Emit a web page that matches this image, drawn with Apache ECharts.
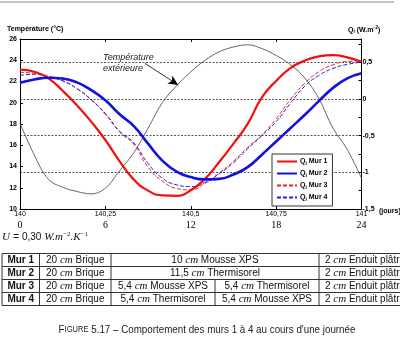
<!DOCTYPE html>
<html>
<head>
<meta charset="utf-8">
<script src="https://cdn.jsdelivr.net/npm/echarts@6/dist/echarts.min.js"></script>
<style>
  html, body { margin: 0; padding: 0; background: #fff; }
  #chart { width: 400px; height: 346px; }
</style>
</head>
<body>
<div id="chart"></div>
<script>
// Time axis: hours of day 140 (0 h) to day 141 (24 h)
const hours = [0, 1, 2, 3, 4, 5, 6, 7, 8, 9, 10, 11, 12, 13, 14, 15, 16, 17, 18, 19, 20, 21, 22, 23, 24];
const dayTicks = ['140', '140,25', '140,5', '140,75', '141'];
const hourTicks = ['0', '6', '12', '18', '24'];

// Outside air temperature (°C, left axis)
const tExterieure = [18.07, 15.1, 12.8, 12.05, 11.65, 11.42, 11.97, 13.6, 15.3, 17.6, 20.0, 21.6, 22.9,
                     24.0, 24.8, 25.25, 25.45, 25.1, 24.45, 23.6, 22.35, 20.4, 17.6, 15.6, 12.9];

// Inner heat flux Q_i (W.m-2, right axis)
const qMur1 = [0.40, 0.37, 0.28, 0.11, -0.085, -0.31, -0.56, -0.85, -1.1, -1.25, -1.315, -1.32, -1.245,
               -1.09, -0.86, -0.61, -0.34, 0.02, 0.245, 0.42, 0.52, 0.58, 0.597, 0.565, 0.505];
const qMur2 = [0.221, 0.265, 0.289, 0.278, 0.225, 0.12, -0.02, -0.21, -0.37, -0.61, -0.84, -0.99, -1.065,
               -1.097, -1.09, -1.03, -0.93, -0.76, -0.58, -0.40, -0.22, -0.03, 0.15, 0.28, 0.35];
const qMur3 = [0.36, 0.35, 0.31, 0.25, 0.14, -0.01, -0.21, -0.45, -0.62, -0.93, -1.12, -1.22, -1.24,
               -1.15, -1.01, -0.85, -0.66, -0.49, -0.27, -0.01, 0.21, 0.37, 0.465, 0.51, 0.516];
const qMur4 = [0.32, 0.335, 0.30, 0.245, 0.14, -0.01, -0.20, -0.44, -0.60, -0.88, -1.08, -1.17, -1.195,
               -1.14, -1.02, -0.87, -0.68, -0.50, -0.31, -0.06, 0.17, 0.32, 0.415, 0.47, 0.50];

// Wall compositions
const murs = ['Mur 1', 'Mur 2', 'Mur 3', 'Mur 4'];
const coucheBrique = ['20 cm Brique', '20 cm Brique', '20 cm Brique', '20 cm Brique'];
const coucheIsolantA = ['10 cm Mousse XPS', '11,5 cm Thermisorel', '5,4 cm Mousse XPS', '5,4 cm Thermisorel'];
const coucheIsolantB = [null, null, '5,4 cm Thermisorel', '5,4 cm Mousse XPS'];
const coucheEnduit = ['2 cm Enduit plâtre', '2 cm Enduit plâtre', '2 cm Enduit plâtre', '2 cm Enduit plâtre'];

const SANS = 'Liberation Sans, Arial, sans-serif';
const SERIF = 'Liberation Serif, DejaVu Serif, serif';
const pairs = arr => hours.map((h, i) => [h, arr[i]]);
const comma = v => String(Math.round(v * 100) / 100).replace('.', ',');

const chart = echarts.init(document.getElementById('chart'), null, { renderer: 'canvas' });

// Table geometry
const colX = [2, 39.5, 111, 215, 319, 420];
const rowY = [253.5, 266.5, 279.5, 292.5, 305.5];
const cellRich = {
  c: { fontFamily: SERIF, fontStyle: 'italic', fontSize: 11, color: '#111' }
};
const withCm = s => s.replace('cm', '{c|cm}');
const tableGraphics = [];
const lineStyle = { stroke: '#333', lineWidth: 1 };
rowY.forEach(y => tableGraphics.push({ type: 'line', shape: { x1: colX[0], y1: y, x2: 400, y2: y }, style: lineStyle }));
[0, 1, 2, 4].forEach(k => tableGraphics.push({ type: 'line', shape: { x1: colX[k], y1: rowY[0], x2: colX[k], y2: rowY[4] }, style: lineStyle }));
tableGraphics.push({ type: 'line', shape: { x1: colX[3], y1: rowY[2], x2: colX[3], y2: rowY[4] }, style: lineStyle });
murs.forEach((m, i) => {
  const cy = (rowY[i] + rowY[i + 1]) / 2;
  const base = { fontFamily: SANS, fontSize: 10, fill: '#111', verticalAlign: 'middle', rich: cellRich };
  tableGraphics.push({ type: 'text', x: (colX[0] + colX[1]) / 2, y: cy,
    style: Object.assign({}, base, { text: m, fontWeight: 'bold', align: 'center' }) });
  tableGraphics.push({ type: 'text', x: (colX[1] + colX[2]) / 2, y: cy,
    style: Object.assign({}, base, { text: withCm(coucheBrique[i]), align: 'center' }) });
  if (coucheIsolantB[i] === null) {
    tableGraphics.push({ type: 'text', x: (colX[2] + colX[4]) / 2, y: cy,
      style: Object.assign({}, base, { text: withCm(coucheIsolantA[i]), align: 'center' }) });
  } else {
    tableGraphics.push({ type: 'text', x: (colX[2] + colX[3]) / 2, y: cy,
      style: Object.assign({}, base, { text: withCm(coucheIsolantA[i]), align: 'center' }) });
    tableGraphics.push({ type: 'text', x: (colX[3] + colX[4]) / 2, y: cy,
      style: Object.assign({}, base, { text: withCm(coucheIsolantB[i]), align: 'center' }) });
  }
  tableGraphics.push({ type: 'text', x: colX[4] + 6, y: cy,
    style: Object.assign({}, base, { text: withCm(coucheEnduit[i]), align: 'left' }) });
});

const option = {
  animation: false,
  backgroundColor: '#fff',
  grid: { left: 20, right: 38.5, top: 39, bottom: 137, show: false },
  legend: {
    orient: 'vertical',
    left: 272, top: 154,
    padding: [4, 5, 4, 4],
    itemGap: 4,
    itemWidth: 20,
    itemHeight: 8,
    backgroundColor: '#fff',
    borderColor: '#333',
    borderWidth: 1,
    borderRadius: 0,
    itemStyle: { opacity: 0 },
    data: ['Mur 1', 'Mur 2', 'Mur 3', 'Mur 4'],
    formatter: name => '{q|Q}{s|i}{q| ' + name + '}',
    textStyle: {
      padding: [0, 0, 0, -2],
      rich: {
        q: { fontFamily: SANS, fontSize: 7, fontWeight: 'bold', color: '#000' },
        s: { fontFamily: SANS, fontSize: 5, fontWeight: 'bold', color: '#000', padding: [4, 0, 0, 0] }
      }
    }
  },
  xAxis: [
    {
      type: 'value', position: 'bottom', min: 0, max: 24, interval: 6,
      axisLine: { show: true, onZero: false, lineStyle: { color: '#000', width: 1 } },
      axisTick: { show: true, inside: true, length: 3, lineStyle: { color: '#000' } },
      splitLine: { show: false },
      axisLabel: {
        margin: 1,
        color: '#000',
        formatter: v => {
          const k = Math.round(v / 6);
          return '{d|' + dayTicks[k] + '}\n{h|' + hourTicks[k] + '}';
        },
        rich: {
          d: { fontFamily: SANS, fontSize: 7, lineHeight: 9, color: '#000' },
          h: { fontFamily: SERIF, fontSize: 10, lineHeight: 12, color: '#000' }
        }
      }
    },
    {
      type: 'value', position: 'top', min: 0, max: 24, interval: 6,
      axisLine: { show: true, onZero: false, lineStyle: { color: '#000', width: 1 } },
      axisTick: { show: true, inside: true, length: 3, lineStyle: { color: '#000' } },
      axisLabel: { show: false },
      splitLine: { show: false }
    }
  ],
  yAxis: [
    {
      type: 'value', position: 'left', min: 10, max: 26, interval: 2,
      axisLine: { show: true, onZero: false, lineStyle: { color: '#000', width: 1 } },
      axisTick: { show: true, inside: true, length: 3, lineStyle: { color: '#000' } },
      splitLine: { show: false },
      axisLabel: { margin: 3, color: '#000', fontFamily: SANS, fontSize: 7, fontWeight: 'bold' }
    },
    {
      type: 'value', position: 'right', min: -1.5, max: 0.816, interval: 0.5,
      axisLine: { show: true, onZero: false, lineStyle: { color: '#000', width: 1 } },
      axisTick: { show: false },
      splitLine: {
        show: true, showMinLine: false, showMaxLine: false,
        lineStyle: { color: '#555', width: 1, type: [2, 1.5] }
      },
      axisLabel: {
        margin: 1, color: '#000', fontFamily: SANS, fontSize: 7, fontWeight: 'bold',
        showMaxLabel: false,
        formatter: v => (Math.abs(v * 2 - Math.round(v * 2)) < 1e-6 ? comma(v) : '')
      }
    },
    {
      type: 'value', position: 'right', min: -1.5, max: 0.816, interval: 0.25,
      axisLine: { show: false, onZero: false },
      axisTick: { show: true, inside: true, length: 3, lineStyle: { color: '#000' } },
      axisLabel: { show: false },
      splitLine: { show: false }
    }
  ],
  series: [
    {
      name: 'Température extérieure', type: 'line', xAxisIndex: 0, yAxisIndex: 0,
      data: pairs(tExterieure), smooth: 0.4, symbol: 'none',
      lineStyle: { color: '#555', width: 0.9 }, z: 1,
      markLine: {
        silent: true, animation: false,
        symbol: ['none', 'arrow'], symbolSize: [7, 10],
        label: { show: false },
        lineStyle: { color: '#000', width: 0.8, type: 'solid' },
        data: [[{ coord: [8.78, 23.71] }, { coord: [11.12, 21.67] }]]
      }
    },
    {
      name: 'Mur 1', type: 'line', xAxisIndex: 0, yAxisIndex: 1,
      data: pairs(qMur1), smooth: 0.5, symbol: 'none',
      lineStyle: { color: '#f01010', width: 2.2 }, itemStyle: { color: '#f01010' }, z: 3
    },
    {
      name: 'Mur 2', type: 'line', xAxisIndex: 0, yAxisIndex: 1,
      data: pairs(qMur2), smooth: 0.5, symbol: 'none',
      lineStyle: { color: '#1010e0', width: 2.6 }, itemStyle: { color: '#1010e0' }, z: 3
    },
    {
      name: 'Mur 3', type: 'line', xAxisIndex: 0, yAxisIndex: 1,
      data: pairs(qMur3), smooth: 0.5, symbol: 'none',
      lineStyle: { color: '#f02020', width: 1, type: [4, 2] }, itemStyle: { color: '#f02020' }, z: 2
    },
    {
      name: 'Mur 4', type: 'line', xAxisIndex: 0, yAxisIndex: 1,
      data: pairs(qMur4), smooth: 0.5, symbol: 'none',
      lineStyle: { color: '#2020e0', width: 1, type: [4, 2] }, itemStyle: { color: '#2020e0' }, z: 2
    }
  ],
  graphic: [
    // page rule above the figure
    { type: 'line', shape: { x1: 0, y1: 2, x2: 394, y2: 2 }, style: { stroke: '#888', lineWidth: 1 } },
    // axis titles
    { type: 'text', x: 7, y: 29, style: { text: 'Température (°C)', fontFamily: SANS, fontSize: 7, fontWeight: 'bold', fill: '#000', verticalAlign: 'middle' } },
    { type: 'text', x: 348, y: 30, style: {
        text: '{b|Q}{s|i}{b| (W.m}{p|-2}{b|)}', verticalAlign: 'middle',
        rich: {
          b: { fontFamily: SANS, fontSize: 7, fontWeight: 'bold', fill: '#000' },
          s: { fontFamily: SANS, fontSize: 5, fontWeight: 'bold', fill: '#000', padding: [4, 0, 0, 0] },
          p: { fontFamily: SANS, fontSize: 5, fontWeight: 'bold', fill: '#000', padding: [0, 0, 4, 0] }
        } } },
    { type: 'text', x: 379, y: 211, style: { text: '(jours)', fontFamily: SANS, fontSize: 7, fontWeight: 'bold', fill: '#000', verticalAlign: 'middle' } },
    // outside temperature annotation
    { type: 'text', x: 103, y: 57, style: { text: 'Température', fontFamily: SANS, fontSize: 9, fontStyle: 'italic', fill: '#222', verticalAlign: 'middle' } },
    { type: 'text', x: 103, y: 68, style: { text: 'extérieure', fontFamily: SANS, fontSize: 9, fontStyle: 'italic', fill: '#222', verticalAlign: 'middle' } },
    // U value
    { type: 'text', x: 2, y: 237, style: {
        text: '{i|U} {r|= 0,30 }{i|W.m}{p|−2}{i|.K}{p|−1}', verticalAlign: 'middle',
        rich: {
          i: { fontFamily: SERIF, fontStyle: 'italic', fontSize: 11, fill: '#111' },
          r: { fontFamily: SANS, fontSize: 10, fill: '#111' },
          p: { fontFamily: SERIF, fontSize: 7, fill: '#111', padding: [0, 0, 6, 0] }
        } } },
    // caption
    { type: 'text', x: 207, y: 330, scaleX: 0.89, style: {
        text: '{a|F}{b|IGURE}{a| 5.17 – Comportement des murs 1 à 4 au cours d\'une journée}',
        align: 'center', verticalAlign: 'middle',
        rich: {
          a: { fontFamily: SANS, fontSize: 11, fill: '#222' },
          b: { fontFamily: SANS, fontSize: 8.5, fill: '#222' }
        } } }
  ].concat(tableGraphics)
};

chart.setOption(option);
</script>
</body>
</html>
